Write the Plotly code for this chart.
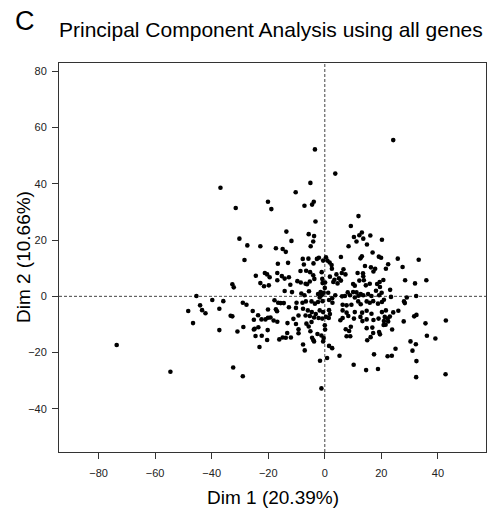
import plotly.graph_objects as go

# ---- data ----
# isolated / outer samples
dim1_outer = [-3.5, 3.7, -5.1, -36.9, -10.3, 24.2, -45.4, -39.8, -44.1, -43.4,
              -42.2, -48.3, -46.6, -73.6, -54.6]
dim2_outer = [52.2, 43.6, 40.3, 38.6, 37.0, 55.5, 0.1, -1.3, -3.2, -4.9,
              -6.0, -5.2, -9.5, -17.3, -26.8]

# west part of the cloud
dim1_west = [-20.1, -31.5, -18.9, -13.6, -30.2, -27.4, -22.8, -11.8, -17.3, -14.9,
             -13.8, -28.4, -16.6, -13.0, -24.4, -21.2, -20.4, -16.8, -19.5, -15.2,
             -12.7, -9.7, -22.8, -32.7, -32.2, -21.5, -19.8, -16.8, -14.2, -12.2,
             -14.2, -11.6, -35.9, -37.3, -29.0, -27.7, -17.8, -16.5, -15.6, -14.5,
             -10.0, -12.7, -10.2, -25.5, -20.1, -17.3, -16.9, -33.3, -32.7, -23.6,
             -20.1, -19.2, -25.1, -22.4, -21.0, -11.1, -9.3, -18.1, -16.8, -37.3,
             -30.9, -28.8, -25.1, -24.8, -23.5, -20.2, -24.5, -22.3, -20.4, -23.1,
             -16.1, -14.9, -13.8, -12.0, -13.3, -13.2, -10.2, -9.3, -9.3, -32.4,
             -29.0]
dim2_west = [33.6, 31.4, 31.0, 23.0, 20.5, 18.1, 17.8, 19.7, 17.1, 16.8,
             15.8, 12.9, 11.6, 11.9, 7.3, 8.3, 7.8, 8.3, 6.8, 7.2,
             6.8, 5.4, 4.7, 4.3, 3.2, 3.6, 3.9, 5.7, 6.3, 4.1,
             1.9, 1.5, -1.7, -4.4, -2.3, -3.0, -1.4, -2.3, -2.4, -2.4,
             -2.3, -3.9, -4.1, -5.2, -4.7, -4.6, -5.3, -6.9, -7.1, -6.7,
             -7.6, -7.5, -8.3, -8.2, -8.2, -8.0, -6.8, -8.6, -9.0, -12.0,
             -12.5, -10.9, -11.8, -11.5, -11.0, -12.0, -14.1, -14.0, -15.5, -18.0,
             -15.3, -14.6, -14.7, -14.6, -13.0, -9.5, -9.8, -11.7, -13.1, -25.3,
             -28.4]

# centre of the cloud
dim1_centre = [-7.2, -4.5, -3.9, -3.3, 11.9, 9.2, -5.7, -3.8, -4.1, -5.0,
               13.1, 10.3, 12.2, 13.6, 11.2, 8.4, 16.1, 20.2, 14.9, 13.1,
               12.6, 16.9, 19.1, 19.9, 5.7, -7.8, -5.8, -2.8, -2.1, -4.0,
               -0.6, 0.4, 0.9, 1.7, 2.4, -7.4, 6.6, 6.0, 7.3, 14.2,
               16.3, 17.8, 17.2, 11.6, 13.5, 13.6, -8.6, -6.6, -5.2, -4.1,
               -1.1, 2.5, 4.1, 3.4, 5.0, 5.7, 3.0, 4.5, 1.8, -0.9,
               -3.7, -5.3, -6.8, -8.5, -6.3, -0.8, 0.1, 0.0, 10.0, 12.2,
               13.8, 14.5, 15.9, 18.5, 19.4, 19.5, 10.6, 20.7, -8.3, -5.6,
               -7.2, -2.4, -1.5, -1.1, -0.4, -1.8, 1.2, 2.6, 3.7, 6.1,
               7.1, 8.1, 8.9, 10.0, 11.2, 11.9, 10.6, 12.7, 13.6, 15.3,
               16.5, 18.1, 19.2, 20.1, -7.9, -6.7, -4.7, -3.5, -2.4, -0.8,
               1.5, 2.7, 6.3, 7.7, 9.4, 11.8, 12.7, 14.8, 15.9, 17.1,
               18.8, 20.2, 20.9, -7.7, -6.0, -4.6, -3.2, -1.8, -0.6, 1.5,
               1.8, 6.3, 7.7, 10.6, 13.2, 14.8, 16.5, 20.2, -6.8, -5.3,
               -3.8, -2.2, -0.9, 0.4, 1.4, 6.3, 8.3, 10.3, 12.6, 14.8,
               19.0, 21.2]
dim2_centre = [32.2, 32.6, 33.6, 26.6, 28.5, 25.0, 22.1, 21.4, 19.5, 17.8,
               22.7, 21.1, 21.7, 20.5, 19.5, 17.8, 21.6, 20.1, 18.4, 14.2,
               13.5, 15.6, 14.1, 13.7, 14.0, 13.3, 13.4, 13.3, 13.7, 11.7,
               12.7, 13.9, 12.7, 12.0, 11.1, 11.3, 9.6, 8.3, 7.8, 10.8,
               10.3, 9.8, 8.8, 8.3, 8.2, 7.1, 9.0, 9.1, 8.6, 7.5,
               8.6, 9.8, 7.8, 5.9, 6.4, 5.6, 5.1, 4.6, 7.0, 6.2,
               6.2, 5.3, 4.5, 4.9, 4.3, 4.7, 4.9, 3.0, 4.4, 5.6,
               5.7, 3.9, 4.5, 4.4, 5.1, 3.3, 3.8, 5.8, 1.0, 1.8,
               0.4, 0.8, 1.5, 0.4, 1.3, -0.4, 1.3, -0.7, 0.4, 0.0,
               0.1, 1.4, 0.4, 1.5, 1.4, 0.2, -0.4, 0.8, 0.4, 0.8,
               0.1, 2.0, 0.4, 1.3, -2.3, -1.8, -1.8, -2.6, -2.0, -1.7,
               -1.3, -2.3, -3.0, -3.2, -3.0, -1.8, -2.8, -1.8, -2.3, -1.7,
               -2.6, -2.0, -1.2, -4.4, -5.0, -5.6, -6.3, -5.0, -5.6, -4.9,
               -6.3, -5.0, -5.8, -5.6, -5.8, -5.1, -6.2, -5.6, -6.8, -7.0,
               -7.5, -7.7, -7.9, -7.3, -7.7, -7.7, -7.0, -7.9, -7.3, -8.2,
               -7.9, -7.3]

# south part of the cloud
dim1_south = [-6.5, -4.7, -5.7, -5.1, -4.5, -4.1, -3.8, -7.7, -7.1, -2.6,
              -1.2, -0.4, -0.6, 0.0, 0.1, 1.5, 2.6, 0.8, -1.7, -1.2,
              5.2, 5.5, 7.4, 8.6, 9.2, 7.7, 9.0, 13.3, 17.2, 20.9,
              20.8, 14.8, 16.8, 17.1, 19.2, 19.5, 16.2, 15.0, 17.4, 10.2,
              14.6, 18.8]
dim2_south = [-9.7, -9.1, -10.7, -12.4, -14.7, -15.5, -16.0, -17.1, -19.2, -13.4,
              -13.9, -14.8, -16.0, -10.3, -11.8, -17.6, -18.4, -21.9, -22.9, -32.7,
              -21.1, -8.5, -11.7, -12.3, -10.8, -14.2, -14.2, -8.8, -8.4, -8.8,
              -10.2, -11.3, -11.1, -13.0, -12.7, -13.5, -14.5, -15.6, -20.6, -24.3,
              -26.2, -25.8]

# east part of the cloud
dim1_east = [25.8, 33.2, 22.4, 21.6, 27.5, 28.4, 31.9, 35.9, 23.1, 23.4,
             29.0, 32.3, 28.0, 28.3, 21.6, 26.0, 24.2, 23.0, 22.2, 22.4,
             21.5, 27.9, 31.6, 32.4, 35.6, 42.8, 23.8, 36.1, 39.1, 30.3,
             32.2, 31.0, 25.0, 22.2, 23.7, 32.4, 32.3, 42.7]
dim2_east = [13.4, 13.0, 11.4, 9.8, 10.4, 5.7, 4.6, 5.7, 2.3, -0.2,
             -0.4, 0.1, -1.8, -2.4, -5.0, -5.1, -5.7, -7.2, -7.9, -8.9,
             -10.1, -8.9, -7.1, -6.6, -9.6, -8.6, -11.8, -14.0, -15.0, -16.0,
             -17.0, -19.3, -18.6, -21.3, -21.1, -23.0, -28.7, -27.7]

x_ticks = [-80, -60, -40, -20, 0, 20, 40]
y_ticks = [-40, -20, 0, 20, 40, 60, 80]

dim1 = dim1_outer + dim1_west + dim1_centre + dim1_south + dim1_east
dim2 = dim2_outer + dim2_west + dim2_centre + dim2_south + dim2_east

FONT = "Liberation Sans, Arial, Helvetica, sans-serif"
AX = "#333333"

fig = go.Figure()
fig.add_trace(go.Scatter(
    x=dim1, y=dim2, mode="markers",
    marker=dict(color="black", size=4.6, line=dict(width=0)),
    hoverinfo="skip", showlegend=False,
))

fig.add_shape(type="line", xref="x", yref="paper", x0=0, x1=0, y0=0, y1=1,
              line=dict(color="#444444", width=1, dash="3px,2px"), layer="below")
fig.add_shape(type="line", xref="paper", yref="y", x0=0, x1=1, y0=0, y1=0,
              line=dict(color="#444444", width=1, dash="3px,2px"), layer="below")

axis_common = dict(
    showgrid=False, zeroline=False, showline=True, mirror=True,
    linecolor=AX, linewidth=1, ticks="outside", ticklen=6, tickwidth=1,
    tickcolor=AX, tickfont=dict(family=FONT, size=11, color="#222222"),
)
fig.update_xaxes(range=[-94, 57], tickvals=x_ticks, ticklabelstandoff=5, **axis_common)
fig.update_yaxes(range=[-55.3, 82.9], tickvals=y_ticks, ticklabelstandoff=3, **axis_common)

fig.update_layout(
    width=489, height=513,
    margin=dict(l=59, r=3, t=63, b=61, pad=0),
    paper_bgcolor="white", plot_bgcolor="white",
    font=dict(family=FONT, color="black"),
    annotations=[
        dict(text="C", xref="paper", yref="paper", x=-0.108, y=1.107,
             xanchor="left", yanchor="middle", showarrow=False,
             font=dict(family=FONT, size=27, color="black")),
        dict(text="Principal Component Analysis using all genes",
             xref="paper", yref="paper", x=-0.004, y=1.085,
             xanchor="left", yanchor="middle", showarrow=False,
             font=dict(family=FONT, size=21, color="black")),
        dict(text="Dim 1 (20.39%)", xref="paper", yref="paper", x=0.5, y=-0.118,
             xanchor="center", yanchor="middle", showarrow=False,
             font=dict(family=FONT, size=19, color="black")),
        dict(text="Dim 2 (10.66%)", xref="paper", yref="paper", x=-0.083, y=0.5,
             xanchor="center", yanchor="middle", showarrow=False, textangle=-90,
             font=dict(family=FONT, size=19, color="black")),
    ],
)

fig.write_html(
    "out.html",
    config={"displayModeBar": False, "staticPlot": True},
    post_script="document.body.style.margin='0px';document.body.style.overflow='hidden';",
)
